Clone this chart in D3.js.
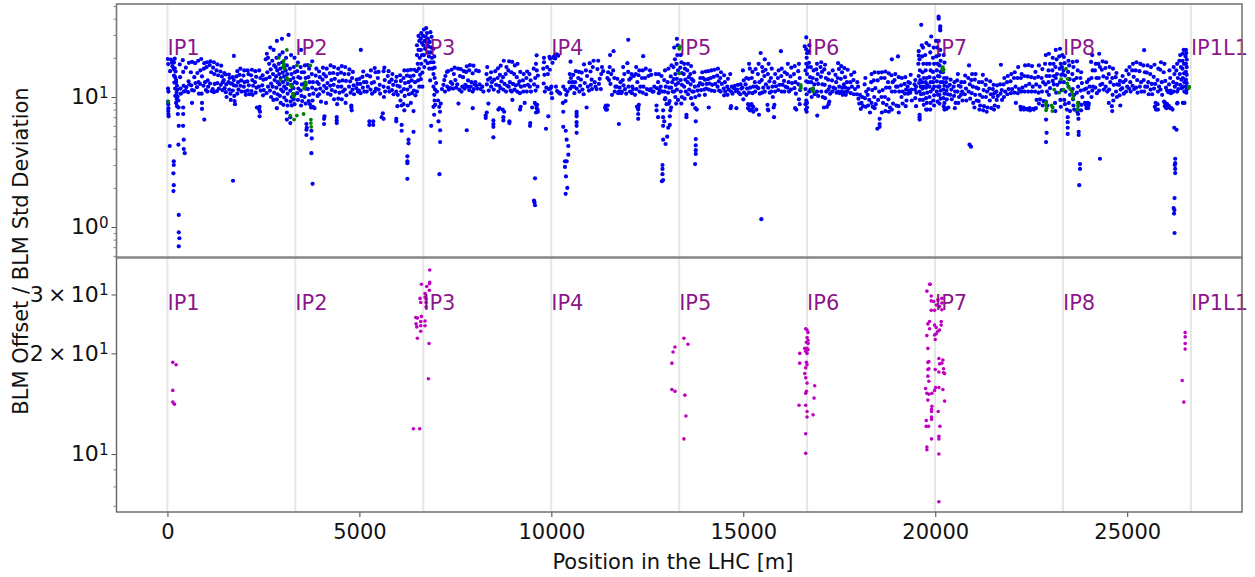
<!DOCTYPE html>
<html><head><meta charset="utf-8">
<script src="https://cdn.jsdelivr.net/npm/d3@7"></script>
<style>html,body{margin:0;background:#fff}svg{display:block}text{font-family:"DejaVu Sans",sans-serif}</style>
</head><body><div id="c"></div>
<script>
const ipNames=["IP1","IP2","IP3","IP4","IP5","IP6","IP7","IP8","IP1L1"];
const ipPositions=[0,3332,6664,9997,13329,16661,19994,23326,26659];
const xTicks=[0,5000,10000,15000,20000,25000];
const xLabel="Position in the LHC [m]";
const yLabel="BLM Offset / BLM Std Deviation";
const arc1=[[10,19.6],[20,17.9],[15,11.6],[25,11],[15,9.2],[20,8.8],[25,8.2],[20,7.8],[25,7.4],[30,7.1],[70,15.8],[90,19.4],[120,18.3],[150,18.8],[130,17.2],[170,18.4],[190,19.7],[165,16.4],[190,16.6],[210,15.7],[170,14.6],[200,14.2],[225,13.5],[180,12.9],[225,12.9],[250,12.2],[200,11.6],[255,11.4],[240,10.8],[205,10.2],[265,10.1],[245,9.6],[225,9],[285,9.4],[250,8.5],[290,8.3],[270,7.4],[410,7.4],[410,8.3],[295,6],[407,6],[60,4.2],[286,4.3],[425,4.7],[425,3.98],[451,3.7],[165,3.2],[165,3],[156,2.59],[165,2.1],[156,1.89],[295,1.24],[295,.91],[312,.82],[295,.71],[640,9],[900,9],[900,8.1],[960,6.7],[1708,2.27],
[320,17.8],[330,14.2],[340,11.6],[350,10.6],[400,19.2],[410,15.6],[420,12.2],[430,11],[480,16.8],[470,11.2],[490,11.9],[560,18.3],[550,13.2],[570,12.5],[540,10.9],[640,18.6],[610,15.5],[620,12.3],[640,11.3],[720,18.2],[700,14.2],[730,12.8],[690,11.2],[800,19],[780,15.3],[810,13],[770,11.9],[820,10.6],[880,19.6],[860,16],[900,14.4],[850,12.6],[890,10.6],[960,18.2],[950,16.5],[980,13],[1000,11.3],[940,12.2],[1030,18.5],[1020,17],[1050,13.4],[1060,12],[1040,11],[1120,18.8],[1100,17.6],[1140,15.5],[1110,12.7],[1150,11.1],[1210,18.5],[1190,16.8],[1220,15],[1230,12.6],[1180,11.5],[1210,10.9],[1300,17.8],[1280,16],[1320,14.7],[1300,12.8],[1340,11.6],[1290,11.1],[1400,17.4],[1380,15.7],[1420,14.4],[1440,13],[1390,12.4],[1430,11.3],[1480,15.3],[1520,14.9],[1470,13.5],[1530,12.5],[1490,11.7],[1520,10.9],[1540,10],[1600,14.9],[1620,14],[1590,13],[1640,12.7],[1610,11.4],[1640,10.6],[1650,9.5],[1730,20.7],[1700,14.2],[1730,13.5],[1680,12.7],[1730,12.3],[1700,11.2],[1740,10.2],[1750,9.3],[1760,8.8],
[1820,15.8],[1800,14.4],[1840,13],[1790,12.2],[1850,11.4],[1820,10.6],[1900,16.5],[1880,14.8],[1920,13.4],[1900,12.2],[1930,11],[2000,16],[1980,14.6],[2010,13],[1990,12],[2020,11],[2040,10.4],[2090,16],[2110,15],[2080,13.2],[2120,12.3],[2090,11.2],[2130,10.5],[2200,16.2],[2180,14.7],[2210,13.5],[2230,12.2],[2190,11.1],[2220,10.4],[2290,15.8],[2310,14.3],[2280,13],[2320,11.8],[2300,10.8],[2400,8.4],[2390,8],[2410,7.7],[2330,8.3],[2400,7.1],[2390,16],[2420,14],[2380,12],[2430,11.2],[2480,14.7],[2500,13.6],[2470,12.3],[2510,11.3],[2490,10.3],[2560,19.5],[2590,21.5],[2620,20],[2600,15.5],[2570,13.8],[2620,12],[2580,10.7],[2680,24],[2650,18],[2690,16.3],[2660,14.2],[2700,12.7],[2670,11.2],[2700,10],[2765,23],[2730,19],[2780,17.5],[2750,15],[2790,13.5],[2740,12],[2780,10.8],[2760,9.5],[2850,8.2],[2850,27],[2840,20],[2820,17],[2860,16],[2830,14.4],[2870,13],[2840,11.8],[2870,10.5],[2850,9.6],[2920,21],[2900,18],[2940,16.5],[2910,15],[2950,14],[2920,12.5],[2960,11.4],[2930,10.2],[2950,9],[2982,28],[3000,22],[2990,18.5],[3020,17],[3000,15.4],[3040,14.4],[3010,13],[3040,12],[3010,11],[3040,9.9],[3020,8.7],[3110,7.6],[3110,6.7],[3155,30],[3090,20],[3110,17.5],[3080,16],[3120,15],[3090,13.6],[3130,12.6],[3090,11.6],[3130,10.6],[3100,9.4],[3130,8.6],[3200,6.3],[3200,7],[3220,21],[3190,16.5],[3230,15],[3200,13.5],[3240,12.4],[3200,11.2],[3240,10],[3210,9.2],[3240,8.6],[3310,20],[3290,17],[3320,15.5],[3280,14],[3320,13],[3280,11.7],[3310,10.5],[3290,9.6],[3310,8.8]];
const arc2=[[3400,18.4],[3380,15.8],[3410,14.2],[3370,12.8],[3410,11.6],[3380,10.7],[3400,9.5],[3480,23],[3470,17],[3500,15.5],[3460,14],[3500,12.5],[3470,11.2],[3490,10.2],[3510,9.3],[3480,8.6],[3620,6.2],[3620,5.6],[3620,5.1],[3630,5.8],[3760,4.8],[3750,5.5],[3750,3.7],[3780,2.15],[3580,17.5],[3560,15.5],[3600,14],[3570,12.7],[3600,11.6],[3570,10],[3600,8.9],[3650,17.6],[3690,16.5],[3670,14.2],[3700,13],[3660,11.5],[3700,10.4],[3680,9.3],[3710,8.8],[3740,8.3],[3790,8.4],[3770,18.8],[3760,15],[3790,13],[3770,11.8],[3800,10.6],[3780,9.4],[3830,8.2],[3880,16.5],[3860,14.6],[3900,13],[3870,11.4],[3910,10.2],[3950,15.7],[3970,14.2],[3940,12.6],[3980,11.6],[3950,10.5],[4000,9.2],[4080,6.8],[4080,6.2],[4090,7.1],[4050,16.8],[4070,15],[4040,13.6],[4080,12.2],[4060,11],[4150,16.5],[4130,14.4],[4170,12.8],[4140,11.7],[4180,10.6],[4130,9],[4250,17.5],[4230,15.2],[4270,13.5],[4240,12.2],[4280,11.3],[4250,10.4],[4410,7],[4410,6.6],[4410,6.3],[4340,17],[4320,15.3],[4360,13.8],[4330,12.4],[4370,11],[4340,9.6],[4450,16.5],[4430,15],[4470,13.2],[4440,12],[4480,10.8],[4450,9.7],[4420,8.8],[4540,17.3],[4520,15.4],[4560,13.4],[4530,12],[4570,11],[4540,9.6],[4630,17],[4610,15],[4650,13.3],[4620,11.4],[4660,10.3],[4640,9],[4740,16.3],[4720,15],[4760,13.2],[4730,12],[4770,10.8],[4830,15.6],[4810,14],[4850,12.3],[4820,11.4],[4860,10.5],[4790,8.6],[4800,7.9],[4790,8.3],[4930,13.6],[4950,12.6],[4920,11.7],[4960,11],[5037,23],[5000,13.8],[5020,12.6],[4990,11.2],[5030,10.7],[5100,15.7],[5080,14.3],[5120,13],[5090,11.8],[5130,11],[5200,14.7],[5180,13],[5220,12],[5190,11],[5260,6.5],[5260,6.1],[5360,6.5],[5360,6.1],[5300,16],[5280,14.4],[5320,12.8],[5290,11.4],[5330,10.6],[5400,16.7],[5420,15.5],[5380,13],[5430,11.6],[5400,11],[5580,7],[5630,6.8],[5610,7.5],[5500,15.6],[5480,14],[5530,12.4],[5500,11.4],[5540,10.6],[5650,16.8],[5630,15.8],[5660,13.5],[5630,12],[5670,11],[5640,10],[5760,15.8],[5740,14.5],[5780,13],[5750,11.8],[5780,11],[5960,6.8],[5960,6.5],[6100,6.1],[6100,5.5],[5860,15],[5840,13.6],[5880,12.4],[5850,11.3],[5890,10.5],[5970,14.3],[5950,13.2],[5990,12.2],[5960,11],[6000,10.4],[5990,8.5],[6060,14.7],[6080,13.3],[6050,12],[6090,11],[6070,9.4],[6100,8.6],[6170,16],[6150,14],[6190,12.8],[6160,11.5],[6180,10.2],[6150,8.8],[6170,7.9],[6410,5.4],[6280,4.7],[6280,4.4],[6250,3.5],[6250,3.2],[6250,3.1],[6250,2.35],[6260,16],[6240,14.6],[6280,13],[6250,11.4],[6290,10.5],[6260,8.6],[6340,16.2],[6320,14.4],[6360,13.4],[6330,12],[6370,10.7],[6340,9],[6410,7.8],[6430,16.2],[6410,14.6],[6450,13],[6420,11.2],[6460,10.3],[6500,25],[6500,21],[6520,18],[6490,15.8],[6530,13.4],[6500,11],[6540,29.5],[6560,27],[6540,23],[6570,20],[6550,16.5],[6580,14.8],[6560,12],[6610,31],[6600,28],[6630,26],[6600,23],[6630,21],[6610,18],[6640,15.4],[6600,13.7],[6640,12]];
const arc3=[[6680,33],[6660,29.5],[6700,27],[6670,25],[6710,23.5],[6680,21],[6720,19],[6690,17],[6740,33.9],[6760,31],[6730,29],[6790,28],[6770,26],[6800,24.5],[6780,22],[6810,20.5],[6780,18.2],[6820,16.5],[6850,31.5],[6880,29],[6830,26.5],[6870,24],[6850,22],[6890,20],[6860,18.5],[6900,16.5],[6843,13.4],[6930,23.5],[6950,20.5],[6930,18.5],[6960,16.8],[6930,15],[6960,14],[6930,12],[6970,11.4],[6930,8.4],[6950,10.4],[6960,9.4],[6975,8.7],[6947,7.3],[7060,6.5],[7103,5.55],[6869,6],[7103,4.5],[7086,2.55],[7000,12.8],[7020,11],[7050,9.4],[7080,8.4],[7120,8.9],[7100,7.7],[7150,11.5],[7190,12.4],[7230,11],[7210,13.5],[7240,14.5],[7280,15.6],[7290,12],[7330,11.4],[7310,15.8],[7370,11.7],[7400,16.2],[7380,13],[7440,11.6],[7420,12.6],[7480,16.8],[7460,15],[7520,11.8],[7500,13.5],[7580,8.9],[7570,16.5],[7550,12.5],[7600,11.4],[7640,16.4],[7620,14.5],[7680,12],[7660,11],[7720,15.8],[7700,14.2],[7760,12.4],[7740,11.6],[7797,5.55],[7800,17.2],[7780,15.6],[7830,13.4],[7810,12],[7860,11.3],[7880,17.6],[7860,16],[7920,13],[7900,12],[7953,8.2],[7950,11],[7970,17.4],[7950,15.2],[8000,12.5],[7980,11.5],[8040,16],[8020,13],[8070,11.6],[8050,12.2],[8110,15.8],[8130,12.5],[8160,11.5],[8200,12],[8230,11],[8317,7.6],[8290,6.9],[8360,8.9],[8290,7.2],[8330,17],[8310,15],[8350,13.6],[8320,12.5],[8370,11.2],[8430,15.5],[8410,14],[8450,13],[8430,12],[8490,6.6],[8490,6.2],[8490,5.9],[8490,4.9],[8510,13.6],[8540,15.8],[8500,11.4],[8560,12.4],[8620,8],[8650,8.2],[8610,16.6],[8600,14],[8640,12.2],[8620,11],[8680,17.4],[8660,14.8],[8700,13.2],[8680,11.7],[8730,8],[8750,7],[8750,6.6],[8770,7.7],[8760,19],[8740,14.2],[8780,12.6],[8750,11.4],[8830,17],[8810,15],[8850,12.2],[8820,11],[8907,6.5],[8907,6.3],[8900,18.8],[8880,16],[8920,13],[8890,12],[8940,11.2],[8985,9.5],[8980,18.6],[8960,15.5],[9000,12.6],[8970,11],[9050,17.5],[9030,15],[9070,12.3],[9040,11.4],[9120,18],[9100,14.2],[9140,12.5],[9110,11],[9184,8],[9200,8.4],[9190,15.6],[9170,13.2],[9210,12],[9180,10.7],[9280,15],[9260,13.4],[9300,12.2],[9270,11],[9305,9],[9370,15.7],[9350,14],[9390,12.4],[9360,11],[9444,6],[9450,6.3],[9430,15],[9460,13.4],[9440,12],[9470,11],[9500,8.3],[9617,20.9],[9600,18],[9574,2.37],[9548,1.6],[9574,1.47],[9560,1.55],[9540,16.5],[9580,14],[9550,12.5],[9590,11.2],[9570,9],[9600,8.7],[9620,8.2],[9630,8.7],[9640,8],[9600,7.6],[9650,7.7],[9620,16],[9650,14.6],[9640,12],[9808,20],[9808,18.5],[9790,16.5],[9820,14.8],[9800,12.7],[9830,11],[9860,5.7],[9921,7.1],[9890,17],[9910,15],[9870,11.8],[9930,11.5],[9950,20.4],[9970,19.7],[9960,16.2],[9980,11.6]];
const arc4=[[10000,12],[10000,10.7],[10020,9.8],[10030,18.3],[10060,20.4],[10060,20],[10100,21],[10100,19.8],[10140,21.3],[10180,20.8],[10120,12],[10150,11.1],[10200,10.8],[10230,10.6],[10311,5.9],[10375,5.5],[10398,4.7],[10441,4.2],[10441,3.6],[10355,3.2],[10400,3.2],[10355,2.9],[10380,2.45],[10415,2],[10372,1.8],[10300,9],[10310,7.7],[10370,9.3],[10390,10.4],[10310,12],[10360,11.4],[10420,11],[10658,7.7],[10658,7.4],[10658,7.1],[10658,6.4],[10658,6],[10658,5.3],[10918,8.3],[10500,18.7],[10480,15],[10510,14],[10470,13],[10530,12],[10490,11.6],[10570,14.8],[10550,13],[10590,12],[10600,10.7],[10660,11.6],[10640,15.8],[10620,13],[10720,15.6],[10700,14],[10750,12.2],[10730,11],[10790,15.4],[10770,13.6],[10810,11.4],[10840,10.5],[10870,12.8],[10850,17.8],[10900,16],[10930,14.5],[10950,12],[10980,11.2],[11000,18.2],[11020,15.7],[11050,13.6],[11030,12.4],[11060,11.5],[11100,19],[11080,17],[11130,13],[11150,12],[11180,11.5],[11220,19],[11200,16.4],[11260,13.8],[11240,12.6],[11290,11.5],[11320,17],[11300,15],[11350,15.8],[11421,8.6],[11421,8],[11400,8.3],[11450,8],[11470,8.6],[11480,15.5],[11460,14],[11500,13.5],[11530,21],[11520,17],[11560,15],[11540,12.6],[11580,10.4],[11620,22.5],[11610,16],[11640,14],[11670,12],[11650,11],[11759,6.2],[11720,13.8],[11700,12],[11760,11],[11740,10.7],[11800,13],[11780,11.8],[11840,11],[11820,10.7],[11870,17],[11860,13.5],[11900,15],[11880,12.3],[11920,11.5],[11950,10.6],[11980,18.2],[12002,27.5],[12000,15.6],[12030,13.6],[12010,12],[12050,11],[12090,15],[12070,14],[12110,12],[12100,10.7],[12150,14.5],[12130,11.5],[12180,10.4],[12210,17],[12200,15],[12240,13],[12220,11.5],[12262,8.3],[12262,8],[12262,7.4],[12262,6.8],[12230,8.4],[12280,8.7],[12290,16],[12270,14.7],[12320,12],[12300,11],[12392,20.6],[12380,16],[12360,14],[12400,12],[12380,10.8],[12460,16.5],[12440,14],[12490,11.5],[12470,10.5],[12530,14.5],[12550,11.3],[12570,16],[12600,14.8],[12590,11.5],[12630,11],[12680,12],[12660,11],[12720,15],[12740,8.6],[12740,7.9],[12780,7],[12750,11.7],[12800,15],[12780,13],[12820,11.3],[12800,10.7],[12870,14.5],[12850,12],[12890,11],[12912,7.9],[12912,7],[12940,6.5],[12912,6],[13043,5.8],[13017,4.95],[12975,4.35],[12912,4.7],[12895,3],[12895,2.8],[12895,2.55],[12912,2.3],[12879,2.25],[12960,16],[12940,13.5],[12980,12],[12950,11],[12970,9.8],[13000,8.8],[12960,9.6],[13050,16.5],[13030,13],[13070,11.8],[13040,10.8],[13085,6.1],[13085,7.1],[13080,9.3],[13060,8.9],[13120,8.3],[13100,7.9],[13130,17.5],[13110,14.4],[13150,13],[13120,11.8],[13160,11],[13200,24],[13220,19.5],[13180,17],[13230,15],[13190,13.7],[13240,12.4],[13200,11],[13230,10],[13250,8.9],[13270,28],[13290,25],[13280,21],[13260,18],[13300,16],[13270,13.8],[13300,12.8],[13270,11.4],[13300,9.5]];
const arc5=[[13385,8.9],[13370,21],[13390,18.5],[13360,16.8],[13400,15.3],[13370,13.5],[13400,12.4],[13370,11],[13400,10],[13518,7],[13520,7.3],[13460,18],[13480,16.5],[13450,15],[13490,13.6],[13460,12],[13500,11],[13470,9.7],[13560,18],[13540,16],[13580,14.2],[13550,13],[13590,11.4],[13560,10.5],[13640,17.3],[13620,15],[13660,13.7],[13630,12.5],[13670,11],[13640,9.8],[13680,8.8],[13750,8.2],[13790,8],[13720,15.5],[13700,13.3],[13740,12],[13710,11],[13750,10],[13762,6.5],[13762,4.75],[13762,4.25],[13762,3.9],[13762,3.65],[13744,3.05],[13830,12.2],[13810,11.2],[13850,10.3],[13880,14],[13870,12.8],[13900,11.3],[13930,15.5],[13950,14],[13940,12.5],[13980,11.4],[14000,10.4],[14020,15.7],[14000,13.6],[14050,12.6],[14030,11.6],[14100,8.3],[14090,15.8],[14080,13.7],[14120,12.7],[14100,11.4],[14170,16],[14150,14],[14190,12.4],[14170,11.2],[14250,16.2],[14230,14.3],[14270,12.6],[14250,11.1],[14340,16.5],[14320,14.6],[14360,13.2],[14330,12],[14370,11.2],[14420,15.5],[14400,14],[14440,12.6],[14410,11],[14500,14.7],[14520,13],[14490,11.6],[14530,11],[14500,10.3],[14600,13.8],[14580,12],[14620,11.4],[14590,10.4],[14670,8.2],[14680,8.5],[14660,15],[14700,12],[14680,11],[14720,10.6],[14820,8.2],[14780,12.2],[14760,11.7],[14800,11.1],[14860,12.4],[14840,11.4],[14880,10.8],[14930,12.5],[14950,11.6],[14920,10.5],[14990,16],[15010,13.4],[14980,11.8],[15020,10.8],[15000,9.6],[15125,8.8],[15125,8.2],[15170,8.6],[15170,7.9],[15215,8.8],[15215,8],[15260,8.4],[15260,7.7],[15340,8],[15409,7.3],[15470,1.15],[15080,14],[15060,12.5],[15100,11.6],[15080,10.4],[15150,18],[15170,16.5],[15140,13.8],[15180,11.8],[15150,10.8],[15240,15.6],[15220,14],[15260,12],[15240,10.7],[15320,16.4],[15300,13],[15340,12],[15310,11],[15400,18],[15452,21.8],[15380,15],[15420,13],[15390,11.7],[15430,10.6],[15490,17],[15510,15.7],[15480,13.5],[15520,11.8],[15490,10.8],[15560,19.5],[15580,16.2],[15550,14.5],[15590,12.5],[15560,11],[15630,8.7],[15640,8],[15650,7.9],[15660,18],[15640,15],[15680,13.2],[15650,11.8],[15690,10.8],[15800,7],[15790,8.3],[15810,8.7],[15740,16.5],[15720,14],[15760,12],[15730,11],[15770,10],[15830,15],[15810,13],[15850,12.1],[15830,11],[15980,22.5],[15920,16],[15900,14],[15940,12.4],[15910,11.3],[16000,16.5],[15990,14.5],[16020,12.4],[16000,11],[16080,15.5],[16060,13.3],[16100,12],[16070,11],[16160,18],[16140,15],[16180,13],[16150,11.8],[16190,11],[16250,16.8],[16230,14.4],[16270,12.8],[16240,11.4],[16380,8],[16350,8.2],[16340,17.3],[16320,15],[16360,13],[16330,11.7],[16370,10.6],[16450,18],[16430,15.8],[16470,14],[16440,12.5],[16480,11.3],[16450,9.6],[16470,8.8]];
const arc6=[[16640,28.7],[16600,24.5],[16640,23.2],[16660,21.7],[16650,20],[16640,18],[16620,16],[16660,15],[16640,13.2],[16620,11.5],[16650,10.5],[16640,9.4],[16620,8.8],[16630,8],[16660,8.3],[16650,7.7],[16660,9],[16680,17],[16720,25],[16700,22.3],[16710,18.3],[16690,13],[16720,11],[16926,7.2],[16760,17],[16740,14.2],[16770,13],[16750,11.4],[16780,10],[16830,16],[16810,14],[16850,12.5],[16820,11.5],[16860,10.5],[16920,18],[16900,16.3],[16940,15],[16910,13.6],[16950,12.6],[16920,11],[16950,10.2],[17030,18.5],[17010,17],[17050,15.6],[17020,14.3],[17060,12.5],[17030,11],[17070,10],[17130,17.7],[17110,16.3],[17150,14],[17120,12.4],[17160,11],[17130,9.8],[17100,8.3],[17180,8.4],[17230,15.2],[17210,13.6],[17250,12],[17220,11.4],[17260,10.6],[17240,9.2],[17220,8.8],[17330,16],[17310,13.4],[17350,11.8],[17320,11],[17400,14.8],[17420,13],[17390,11.6],[17430,10.8],[17470,18.2],[17490,16.4],[17460,14],[17500,12],[17470,11],[17510,10.7],[17550,17.3],[17570,15.5],[17540,13.8],[17580,11.8],[17550,11],[17590,10.4],[17630,16.7],[17650,14.2],[17620,12.5],[17660,11.8],[17630,10.9],[17670,10.4],[17720,16.2],[17700,13],[17740,11.6],[17710,11],[17810,14.8],[17790,13],[17830,12],[17800,10.7],[17890,15.5],[17870,13.5],[17910,11.5],[17880,10.5],[17970,13],[17990,12],[17960,10.5],[18000,9.7],[18040,10.4],[18020,8.9],[18060,8.1],[18100,10],[18080,9],[18120,8.5],[18180,14],[18160,12.5],[18200,11],[18170,9.8],[18190,8.4],[18260,11.5],[18240,10.4],[18280,9.5],[18250,8.6],[18300,7.6],[18340,15],[18330,13],[18360,11.3],[18340,9],[18370,8.4],[18420,15.5],[18400,13.4],[18440,11.7],[18410,10],[18450,8.8],[18420,8.2],[18520,15.4],[18500,13.4],[18540,11],[18510,9.5],[18551,6.8],[18551,6.2],[18551,5.9],[18491,5.7],[18610,15.5],[18590,14],[18630,11.3],[18600,10],[18640,9],[18610,7.6],[18700,15.7],[18680,14],[18720,11.8],[18690,10],[18730,8.7],[18700,7.8],[18790,15.2],[18770,13],[18810,11.8],[18780,9.6],[18820,8.3],[18790,7.7],[18870,19.5],[18860,14.7],[18890,13],[18870,11],[18900,8.9],[18870,8],[18960,15],[18940,13.5],[18980,12],[18950,11],[18990,8.6],[19030,20.5],[19050,14.2],[19020,12],[19060,11],[19040,8.5],[19050,7.6],[19130,14],[19110,12.3],[19150,11],[19120,10],[19150,8.9],[19220,14.2],[19200,12.6],[19240,11.4],[19210,10.6],[19250,9.4],[19230,8.5],[19300,13],[19280,12],[19320,11.2],[19290,10.6],[19360,14.8],[19340,12.8],[19380,11.4],[19350,10.8],[19390,9.4],[19480,13.5],[19460,12.5],[19500,12],[19470,11.4],[19510,10.8],[19480,9.8],[19500,8.5],[19592,7.3],[19592,7],[19592,6.7],[19570,22.5],[19570,20.8],[19590,19.5],[19560,18],[19600,16],[19570,14.5],[19610,13.5],[19580,12.8],[19620,12],[19590,11],[19630,10.5],[19600,9.5],[19635,35.9],[19650,25],[19680,24],[19660,20.5],[19690,18],[19670,15.5],[19700,14],[19660,13],[19700,12],[19670,11.6],[19700,10.6],[19680,9.5],[19700,8.7],[19770,26],[19740,21],[19780,18],[19750,16],[19780,14],[19750,13],[19790,12.4],[19760,11.8],[19790,10.8],[19760,9.8],[19780,9],[19760,8],[19790,8],[19895,29.2],[19840,25],[19870,22],[19850,18],[19880,16],[19850,14.2],[19880,13],[19850,12],[19880,11],[19850,10],[19880,9],[19870,8],[19960,24],[19940,20],[19970,18],[19940,15.6],[19970,14],[19940,13],[19970,12],[19940,11.5],[19970,10.3],[19950,9.4],[19970,8.6]];
const arc7=[[20086,41.5],[20090,40],[20130,35],[20130,33.5],[20130,32.5],[20020,27],[20050,24],[20030,20.5],[20060,18],[20040,16],[20070,14.5],[20040,13.2],[20070,12],[20040,11],[20070,10.4],[20060,9.2],[20090,27],[20130,23],[20100,21],[20140,19],[20110,17.5],[20140,15.6],[20110,14.4],[20140,13],[20110,12],[20140,11.2],[20110,10.4],[20140,9.7],[20110,8.9],[20220,21],[20240,18.4],[20200,15.5],[20230,14],[20200,13],[20240,12.2],[20210,11.4],[20240,10.6],[20210,9.8],[20240,9],[20220,8.5],[20240,8],[20300,14],[20280,13],[20320,12],[20290,11.2],[20330,10.5],[20300,9.6],[20340,8.3],[20290,8.1],[20400,13.6],[20380,12.4],[20420,11.4],[20390,10.4],[20430,9.6],[20500,13],[20480,12],[20520,11],[20490,10.2],[20530,9],[20510,8.2],[20590,15],[20570,13.4],[20610,12.2],[20580,11],[20620,10],[20600,9],[20892,4.3],[20930,4.15],[20680,13],[20660,12],[20700,11],[20670,10.4],[20710,9.4],[20780,14.6],[20760,13],[20800,11.6],[20770,10.5],[20810,9.4],[20880,17.5],[20860,14],[20900,12.5],[20870,11],[20910,9.7],[20960,15],[20940,13.5],[20980,12],[20950,10.7],[20990,9],[21050,15],[21030,13.6],[21070,11.8],[21040,10.4],[21080,9.4],[21020,8.3],[21140,13],[21120,11.6],[21160,10.4],[21130,9.3],[21170,8.6],[21150,8],[21240,14.8],[21220,13],[21260,11.3],[21230,10],[21270,8.5],[21250,7.9],[21330,13.6],[21310,12.4],[21350,11],[21320,10],[21360,8.3],[21340,7.7],[21430,13.2],[21410,11.6],[21450,10.5],[21420,9.4],[21460,8.2],[21520,12.4],[21500,11.5],[21540,10.7],[21510,10],[21550,8.6],[21530,8],[21610,12.3],[21590,11],[21630,10.2],[21600,9.5],[21640,8.4],[21710,17.7],[21690,12.5],[21730,11.3],[21700,10.6],[21740,9.5],[21800,14],[21780,12.5],[21820,11],[21790,10],[21890,14.5],[21870,13],[21910,11.5],[21880,10.5],[21980,15],[21960,13.2],[22000,11.5],[21970,10.7],[22070,15.5],[22050,14],[22090,12],[22060,10.8],[22160,17],[22140,14],[22180,11.5],[22150,10.7],[22100,9],[22250,15],[22230,14],[22270,11.8],[22240,11],[22220,8.4],[22230,8],[22300,8.3],[22310,8],[22340,17.5],[22320,14.5],[22360,12.2],[22330,11],[22380,8.1],[22400,8],[22430,17.6],[22410,14.4],[22450,12.6],[22420,11],[22460,8.2],[22470,7.9],[22520,17.3],[22500,14.2],[22540,12],[22510,11],[22550,8.1],[22570,8],[22610,15.6],[22590,14],[22630,12.5],[22600,11],[22640,9.5],[22620,8.2],[22700,17.5],[22680,14.3],[22720,12],[22690,10.8],[22730,9.6],[22700,8.9],[22886,6.7],[22900,5.3],[22886,4.5],[22790,16.4],[22770,14],[22810,13],[22780,11],[22820,9.3],[22800,8.6],[22880,21],[22860,18],[22900,14.5],[22870,12.5],[22910,11],[22880,9.2],[22920,8.6],[22960,21.5],[22990,18],[22950,16],[22980,14.5],[22950,13],[22990,11.7],[22960,10.4],[23060,20],[23080,18],[23050,16],[23090,14.5],[23060,13.3],[23090,12.5],[23140,23],[23160,19.5],[23130,17],[23170,15],[23140,14],[23180,12.4],[23150,10.8],[23120,9],[23130,7.8],[23250,23.5],[23230,20.5],[23270,18],[23240,16.5],[23280,14.8],[23250,13],[23290,11.3],[23260,9.5],[23270,8.4],[23310,21],[23300,17],[23320,15]];
const arc8=[[23350,20.3],[23370,18.2],[23340,16],[23380,14.6],[23350,13],[23390,11],[23360,9.5],[23380,8.8],[23450,7],[23450,6.4],[23450,5.8],[23450,5.2],[23430,8],[23470,19],[23490,17.5],[23460,15.6],[23500,13.7],[23470,12],[23510,10.4],[23480,9],[23510,7.8],[23580,18.6],[23600,17],[23570,15],[23610,13.5],[23580,11.5],[23620,10.4],[23590,9.6],[23600,8.6],[23620,8],[23736,5.4],[23736,5.1],[23770,3.05],[23770,2.8],[23750,2.1],[24290,3.35],[23690,18.8],[23710,16],[23680,14],[23720,12],[23690,10.8],[23730,9],[23700,7.7],[23710,8],[23720,7.4],[23730,6.8],[23800,15.5],[23780,14],[23820,12.8],[23790,11.2],[23830,10],[23810,8.7],[23800,7.9],[23880,11.4],[23900,9],[23920,8.7],[23950,8.5],[23970,9],[23990,8.6],[24000,8.9],[23940,8.2],[23980,8.2],[23950,13],[23930,11.6],[24000,13.6],[24020,12],[23990,10.8],[24090,21],[24060,18.6],[24100,16],[24070,14],[24110,12],[24090,11.2],[24070,10],[24180,18],[24160,16],[24200,14],[24170,11.8],[24210,10.7],[24270,21.5],[24250,18],[24290,17],[24260,14],[24300,12.4],[24270,11.2],[24360,18.8],[24340,16.2],[24380,14.4],[24350,12.6],[24390,11.4],[24450,18.5],[24430,16.7],[24470,14],[24440,12],[24480,11],[24540,17],[24520,15],[24560,13],[24530,11.4],[24520,9],[24600,8.5],[24610,7.8],[24630,16.5],[24610,14],[24650,12.4],[24620,10.4],[24640,9.4],[24720,15.3],[24700,14.2],[24740,12.5],[24710,11],[24730,10],[24810,13.3],[24790,12.4],[24830,11.4],[24800,10.3],[24820,8.6],[24880,14.5],[24900,13],[24870,11.7],[24910,10.6],[24980,16],[24960,13.5],[25000,12],[24970,11],[25060,17],[25040,15],[25080,13],[25050,11.6],[25090,11],[25150,18],[25130,16],[25170,14.3],[25140,12.2],[25180,11.5],[25240,18.5],[25220,16],[25260,13.5],[25230,11.8],[25270,10.8],[25340,18],[25320,15.8],[25360,13],[25330,12],[25370,11],[25440,22.9],[25420,17.5],[25460,15.5],[25430,13.5],[25470,12],[25440,11],[25530,17.5],[25510,15.4],[25550,13],[25520,12],[25560,10.5],[25620,17],[25600,15],[25640,12.6],[25610,11.4],[25650,10.5],[25710,17.7],[25690,14.3],[25730,12.6],[25700,11.6],[25740,9],[25720,8.4],[25750,8],[25790,8.8],[25800,8],[25810,16.5],[25790,13.5],[25830,12],[25800,11],[25880,18.5],[25860,16.2],[25900,13],[25870,11.4],[25910,10.4],[25960,9.2],[25990,9],[26010,8.6],[26040,8.8],[26060,8.4],[26090,8.5],[26120,8.2],[26150,8.2],[26180,8],[25980,8.5],[26020,8.2],[25970,18],[25950,15.5],[25990,13.3],[26010,11.8],[26040,11.2],[26070,10.9],[26100,16],[26120,14],[26090,12.5],[26130,11.2],[26140,10.7],[26225,5.8],[26285,5.6],[26250,3.35],[26250,3.1],[26240,3],[26250,2.8],[26250,2.6],[26233,1.67],[26210,1.4],[26230,1.35],[26220,1.27],[26233,.9],[26310,9],[26300,8.9],[26490,9],[26450,9],[26210,17],[26230,15],[26200,13],[26240,12],[26210,11],[26300,18],[26280,16],[26320,14],[26290,12.6],[26330,11.5],[26300,11],[26380,21],[26360,19],[26400,17],[26370,15],[26410,13.6],[26380,12.4],[26420,11.7],[26450,21.5],[26470,23],[26440,19],[26480,18],[26440,16.5],[26480,15.2],[26450,14],[26490,13],[26460,12],[26490,11],[26530,23],[26540,21.8],[26520,20.5],[26550,19.4],[26530,18],[26550,17],[26530,15.6],[26550,14.8],[26530,13.6],[26550,12.8],[26530,12],[26550,11.4],[26540,10.8]];
const arcsBlue=[arc1,arc2,arc3,arc4,arc5,arc6,arc7,arc8];
const greenPoints=[[20,9.2],[2900,20],[3030,19],[3030,18],[3040,17.6],[3020,17],[3050,16.5],[2940,13.5],[3110,14],[3140,13.6],[3240,12],[3200,12.4],[3290,10.1],[3270,10.6],[3590,13],[3610,12.4],[3570,12],[3560,11.6],[3720,17.5],[3370,17.5],[3200,7.2],[3370,7.2],[3546,7.4],[3300,6.7],[3737,6.7],[3737,6.3],[3745,5.9],[3110,23],
[13345,24.5],[13330,23.5],[13328,15.2],[16493,12.4],[16493,11.6],[16500,12],[16814,11.7],[16814,11],[16790,11.4],[20200,17],[20200,15.9],[20180,16.5],[20220,16.2],
[22886,9.1],[22886,8.7],[22900,8.2],[22886,7.9],[23030,8.6],[23060,8.3],[23050,7.8],[23100,11.4],[23230,10.8],[23340,11.4],[23277,13.7],[23406,16.5],[23450,13.8],[23440,12.7],[23470,12],[23510,11.5],[23560,11],[23580,10.4],[23590,9.8],[23710,9],[23720,8.5],[23700,8],[26614,12],[26600,11.7]];
const ip1Offset=[[139,18.8],[225,18.5],[139,15.5],[139,14.3],[182,14.1]];
const ip3Offset=[[6832,35.5],[6832,32.6],[6825,32.3],[6615,32.2],[6754,31.7],[6823,30.9],[6710,30.2],[6710,29.5],[6580,29.2],[6598,28.4],[6736,29.1],[6736,28.4],[6736,27.5],[6468,25.6],[6511,25.5],[6615,25.8],[6710,25],[6598,24.9],[6476,24.5],[6494,24],[6598,24.2],[6710,24.2],[6598,23.3],[6511,22.2],[6814,21.4],[6797,16.8],[6407,11.9],[6572,11.9]];
const ip5Offset=[[13220,20.9],[13170,20.2],[13140,18.7],[13140,15.6],[13220,15.4],[13453,22.2],[13557,21.3],[13479,15],[13505,13],[13453,11.1]];
const ip6Offset=[[16626,23.7],[16660,23.5],[16687,23.1],[16660,22.3],[16687,21.9],[16644,21.6],[16687,21.4],[16660,20.7],[16687,20.5],[16626,20.3],[16660,20],[16600,20.7],[16470,20],[16470,18.7],[16644,18.8],[16660,18.5],[16626,18.1],[16600,17.4],[16626,16.9],[16660,16.3],[16644,15.4],[16626,15.2],[16860,16],[16843,14.7],[16453,14],[16626,14],[16660,13.4],[16660,12.9],[16817,13.1],[16626,11.5],[16626,10.05]];
const ip7Offset=[[19852,32.2],[19870,32.2],[19782,30.7],[19895,29.7],[19895,28.7],[19960,28.6],[20068,28.9],[20172,29.2],[20172,28.3],[20025,27.9],[20112,27.6],[19895,26.9],[19982,26.9],[20172,27],[19852,24.9],[19808,24.5],[19982,24.3],[20155,24.9],[20155,24.3],[19852,23.7],[20025,23.9],[20112,23.5],[20068,23.3],[20025,22.9],[19982,22.7],[19782,22.6],[19999,22],[19808,20.7],[20095,19.3],[20198,19.1],[19834,18.9],[19808,18.8],[20112,18.6],[20172,18.7],[19834,18],[19808,17.9],[19999,17.9],[20095,17.6],[20215,18],[20215,17.5],[20242,17.4],[19808,17.1],[19834,16.5],[19748,15.7],[19982,15.5],[20008,15.8],[20095,15.8],[20198,15.6],[19782,15.2],[19834,15.1],[19912,15.2],[19808,14.5],[20242,14.4],[19912,13.9],[19903,13.6],[19903,13.4],[20077,13.4],[19903,12.9],[19903,12.7],[19765,12.6],[19765,12.1],[19826,12.1],[20120,12.1],[19903,11.1],[20095,11.3],[20095,11.1],[19782,10.5],[19782,10.3],[20095,10],[20095,7.2]];
const ip1l1Offset=[[26510,23.1],[26510,22.4],[26510,21.4],[26510,20.6],[26432,16.6],[26475,14.3]];
const offsetGroups=[ip1Offset,ip3Offset,ip5Offset,ip6Offset,ip7Offset,ip1l1Offset];

const W=1255,H=577,L=116.5,R=1242,T=4,M=257.5,B=512;
const svg=d3.select("#c").append("svg").attr("width",W).attr("height",H);
const x=d3.scaleLinear().domain([-1327,27990]).range([L,R]);
const yTop=d3.scaleLog().domain([.583,51.9]).range([M,T]);
const yBot=d3.scaleLog().domain([6.71,38.7]).range([B,M]);
const fs=21;
function grid(top,bottom){
  svg.append("g").selectAll("line").data(ipPositions).join("line")
    .attr("x1",d=>x(d)).attr("x2",d=>x(d)).attr("y1",top).attr("y2",bottom)
    .attr("stroke","#e6e6e6").attr("stroke-width",2);
}
grid(T,M);grid(M,B);
const dots=(data,y,color,r)=>svg.append("g").selectAll("circle").data(data).join("circle")
  .attr("cx",d=>x(d[0])).attr("cy",d=>y(d[1])).attr("r",r).attr("fill",color);
dots(arcsBlue.flat(),yTop,"#0000f0",2.1);
dots(greenPoints,yTop,"#008000",1.9);
dots(offsetGroups.flat(),yBot,"#c000c0",1.8);
function ipLabels(yPos){
  svg.append("g").selectAll("text").data(ipNames).join("text")
    .attr("x",(d,i)=>x(ipPositions[i])).attr("y",yPos)
    .attr("font-size",fs).attr("fill","#800080").attr("fill-opacity",.92).text(d=>d);
}
ipLabels(55);ipLabels(310);

function supLabel(sel,parts){
  sel.text(null);
  sel.append("tspan").attr("font-size",fs+1).text(parts[0]);
  sel.append("tspan").attr("dy","-0.42em").attr("font-size",fs*.72).text(parts[1]);
}
function yAxis(scale,majors,minors,labels){
  const g=svg.append("g").attr("transform",`translate(${L},0)`);
  const a=g.append("g").call(d3.axisLeft(scale).tickValues(majors).tickSize(5).tickPadding(3).tickFormat((d,i)=>labels[i]));
  a.select(".domain").remove();
  a.selectAll(".tick line").attr("stroke","#555").attr("stroke-width",1);
  a.selectAll(".tick text").attr("font-size",fs).attr("fill","#111").attr("dy","0.32em")
    .each(function(d,i){supLabel(d3.select(this),labels[i]);});
  const b=g.append("g").call(d3.axisLeft(scale).tickValues(minors).tickSize(3).tickFormat(""));
  b.select(".domain").remove();
  b.selectAll(".tick line").attr("stroke","#666").attr("stroke-width",.8);
}
yAxis(yTop,[1,10],[.6,.7,.8,.9,2,3,4,5,6,7,8,9,20,30,40,50],[["10","0"],["10","1"]]);
yAxis(yBot,[10,20,30],[7,8,9],[["10","1"],["2\u2009×\u200910","1"],["3\u2009×\u200910","1"]]);

const xa=svg.append("g").attr("transform",`translate(0,${B})`).call(d3.axisBottom(x).tickValues(xTicks).tickSize(5).tickPadding(7).tickFormat(d3.format("d")));
xa.select(".domain").remove();
xa.selectAll(".tick line").attr("stroke","#444");
xa.selectAll(".tick text").attr("font-size",fs).attr("fill","#111");

svg.append("rect").attr("x",L).attr("y",T).attr("width",R-L).attr("height",M-T).attr("fill","none").attr("stroke","#777").attr("stroke-width",1.6);
svg.append("rect").attr("x",L).attr("y",M).attr("width",R-L).attr("height",B-M).attr("fill","none").attr("stroke","#666").attr("stroke-width",1.4);
svg.append("line").attr("x1",L).attr("x2",R).attr("y1",M).attr("y2",M).attr("stroke","#888").attr("stroke-width",2);

svg.append("text").attr("x",673).attr("y",569).attr("text-anchor","middle").attr("font-size",fs).attr("fill","#111").text(xLabel);
svg.append("text").attr("transform","translate(28,251) rotate(-90)").attr("text-anchor","middle").attr("font-size",fs).attr("fill","#111").text(yLabel);
</script></body></html>
